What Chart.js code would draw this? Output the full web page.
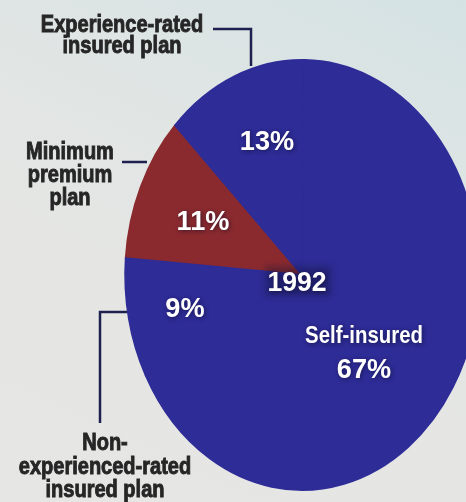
<!DOCTYPE html>
<html><head><meta charset="utf-8">
<script src="https://cdn.jsdelivr.net/npm/chart.js@4.4.0/dist/chart.umd.min.js"></script>
<style>
html,body{margin:0;padding:0;background:#e4e6e4;}
#wrap{position:relative;width:466px;height:502px;overflow:hidden;
 background:linear-gradient(205deg,#d4e2e4 0%,#dfe5e4 30%,#e5e6e4 60%,#e6e6e4 100%);}
canvas{position:absolute;left:0;top:0;}
</style></head><body>
<div id="wrap"><canvas id="c" width="604" height="550" style="width:604px;height:550px"></canvas></div>
<script>
// ---- data ----
const categories = ["Minimum premium plan", "Experience-rated insured plan", "Self-insured", "Non-experienced-rated insured plan"];
const shares = [11, 13, 67, 9];
const yearLabel = "1992";
const sliceColors = ["#8a2a2e", "#2e2c96", "#2e2c96", "#2e2c96"];

// ---- layout / styles ----
const PIE_R = 177;            // circle radius before vertical stretch
const STRETCH_Y = 215 / 177;  // elliptical look of the original
const DARK = "#262626";
const LEADER = "#1e2050";
const FONT = '"Liberation Sans", Arial, sans-serif';

const outerLabels = [
  {lines: ["Experience-rated", "insured plan"], cx: 122, base: 32, lh: 21},
  {lines: ["Minimum", "premium", "plan"], cx: 70, base: 159, lh: 23},
  {lines: ["Non-", "experienced-rated", "insured plan"], cx: 105, base: 450, lh: 23.5}
];
const leaders = [
  [[213, 29], [251, 29], [251, 66]],
  [[122, 162], [147, 162]],
  [[127, 312], [100, 312], [100, 423]]
];
// in-slice labels: index into shares, center x, baseline
const innerLabels = [
  {i: 1, cx: 267, base: 150},
  {i: 0, cx: 203, base: 230},
  {i: 3, cx: 185, base: 317},
  {i: 2, cx: 364, base: 378, title: "Self-insured", titleBase: 343}
];

function drawScaled(ctx, text, cx, base, font, sx, color, shadow, heavy) {
  ctx.save();
  ctx.font = font;
  ctx.fillStyle = color;
  ctx.strokeStyle = color;
  ctx.textAlign = "center";
  ctx.textBaseline = "alphabetic";
  if (shadow) { ctx.shadowColor = "rgba(10,10,40,0.6)"; ctx.shadowBlur = 4; ctx.shadowOffsetX = 1; ctx.shadowOffsetY = 1; }
  ctx.translate(cx, base);
  ctx.scale(sx, 1);
  ctx.fillText(text, 0, 0);
  if (heavy) { ctx.shadowColor = "transparent"; ctx.lineWidth = heavy; ctx.strokeText(text, 0, 0); }
  ctx.restore();
}

const ellipsePlugin = {
  id: "ellipse",
  beforeDatasetsDraw(chart) {
    const a = chart.getDatasetMeta(0).data[0];
    const ctx = chart.ctx;
    ctx.save();
    ctx.translate(a.x, a.y);
    ctx.scale(1, STRETCH_Y);
    ctx.translate(-a.x, -a.y);
  },
  afterDatasetsDraw(chart) { chart.ctx.restore(); }
};

const labelPlugin = {
  id: "labels",
  afterDraw(chart) {
    const ctx = chart.ctx;
    // leader lines
    ctx.save();
    ctx.strokeStyle = LEADER;
    ctx.lineWidth = 2.5;
    ctx.lineJoin = "miter";
    leaders.forEach(pts => {
      ctx.beginPath();
      pts.forEach((p, k) => k ? ctx.lineTo(p[0], p[1]) : ctx.moveTo(p[0], p[1]));
      ctx.stroke();
    });
    ctx.restore();
    // outer dark labels
    outerLabels.forEach(l => {
      l.lines.forEach((t, k) => drawScaled(ctx, t, l.cx, l.base + k * l.lh, "bold 23px " + FONT, 0.87, DARK, false, 0.9));
    });
    // year label with dark halo
    ctx.save();
    ctx.fillStyle = "rgba(20,20,60,0.35)";
    ctx.filter = "blur(3px)";
    ctx.fillRect(265, 266, 66, 30);
    ctx.restore();
    drawScaled(ctx, yearLabel, 297, 291, "bold 28px " + FONT, 0.95, "#ffffff", true, 0);
    // inner value labels
    innerLabels.forEach(l => {
      if (l.title) drawScaled(ctx, l.title, l.cx, l.titleBase, "bold 24px " + FONT, 0.85, "#ffffff", true, 0);
      drawScaled(ctx, shares[l.i] + "%", l.cx, l.base, "bold 28px " + FONT, 0.97, "#ffffff", true, 0);
    });
  }
};

new Chart(document.getElementById("c"), {
  type: "pie",
  data: {
    labels: categories,
    datasets: [{
      data: shares,
      backgroundColor: sliceColors,
      borderColor: sliceColors,
      borderWidth: 1.5,
      borderJoinStyle: "round",
      clip: false
    }]
  },
  options: {
    responsive: false,
    devicePixelRatio: 1,
    animation: false,
    events: [],
    radius: PIE_R,
    rotation: 274.5,
    layout: {padding: 0},
    plugins: {legend: {display: false}, tooltip: {enabled: false}, title: {display: false}}
  },
  plugins: [ellipsePlugin, labelPlugin]
});
</script>
</body></html>
